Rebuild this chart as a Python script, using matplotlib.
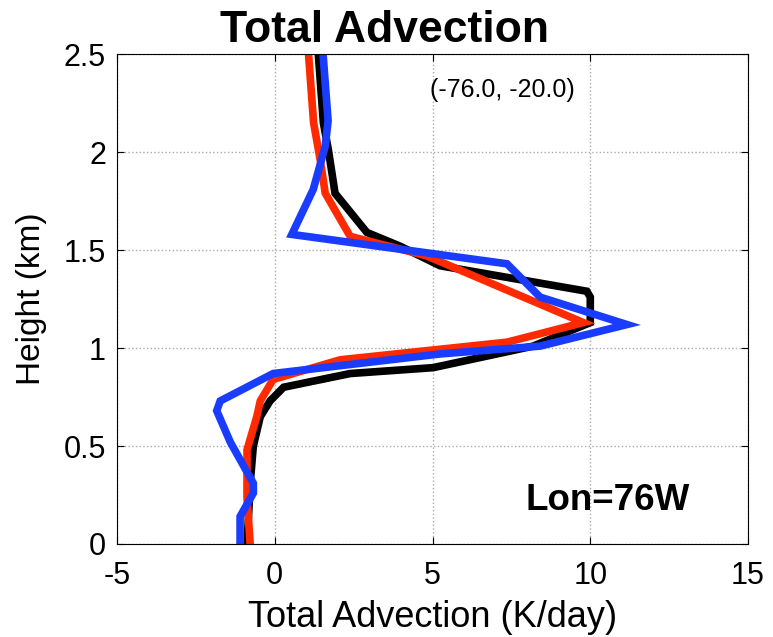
import matplotlib
matplotlib.use("Agg")
import matplotlib.pyplot as plt

plt.rcParams['font.family'] = ['Liberation Sans', 'DejaVu Sans']
plt.rcParams['axes.unicode_minus'] = False

# black profile
h_black = [0.0, 0.15, 0.31, 0.50, 0.65, 0.73, 0.80, 0.87, 0.90, 1.01, 1.13, 1.26,
           1.29, 1.42, 1.52, 1.59, 1.79, 2.01, 2.15, 2.5]
x_black = [-0.88, -0.83, -0.78, -0.68, -0.46, -0.15, 0.28, 2.39, 5.02, 8.19, 10.0, 10.0,
           9.89, 5.24, 3.97, 2.92, 1.91, 1.70, 1.54, 1.38]

# red profile
h_red = [0.0, 0.24, 0.48, 0.65, 0.73, 0.84, 0.94, 1.03, 1.13, 1.47, 1.57, 1.79, 1.96, 2.15, 2.5]
x_red = [-0.78, -0.88, -0.88, -0.57, -0.46, -0.05, 2.07, 7.36, 9.78, 4.82, 2.39, 1.60, 1.44, 1.23, 1.07]

# blue profile
h_blue = [0.0, 0.14, 0.26, 0.31, 0.52, 0.68, 0.73, 0.87, 0.97, 1.01, 1.12, 1.26, 1.43,
          1.58, 1.81, 2.03, 2.16, 2.5]
x_blue = [-1.10, -1.10, -0.68, -0.68, -1.41, -1.84, -1.73, -0.05, 5.24, 8.41, 11.16, 8.41, 7.36,
          0.54, 1.22, 1.60, 1.69, 1.53]

fig = plt.figure(figsize=(7.73, 6.37), dpi=100)
ax = fig.add_axes([0.1514, 0.146, 0.8163, 0.769])

ax.plot(x_black, h_black, color='black', lw=5.5, solid_joinstyle='miter')
ax.plot(x_red, h_red, color='#ff2a00', lw=5.5, solid_joinstyle='miter')
ax.plot(x_blue, h_blue, color='#1a3cff', lw=5.5, solid_joinstyle='miter')

ax.set_xlim(-5, 15)
ax.set_ylim(0, 2.5)
ax.set_xticks([-5, 0, 5, 10, 15])
ax.set_yticks([0, 0.5, 1, 1.5, 2, 2.5])
ax.set_yticklabels(['0', '0.5', '1', '1.5', '2', '2.5'])
ax.tick_params(direction='in', labelsize=22, length=5, top=True, right=True)
ax.tick_params(axis='x', pad=12)
ax.tick_params(axis='y', pad=8)
ax.grid(True, linestyle=':', color='#aaaaaa', lw=1)

ax.set_xlabel('Total Advection (K/day)', fontsize=26, labelpad=7)
ax.set_ylabel('Height (km)', fontsize=24, labelpad=12)
fig.suptitle('Total Advection', fontsize=32, fontweight='bold', x=0.497, y=0.985)

ax.text(0.61, 0.927, '(-76.0, -20.0)', transform=ax.transAxes, fontsize=18,
        ha='center', va='center')
ax.text(0.778, 0.088, 'Lon=76W', transform=ax.transAxes, fontsize=26.5,
        fontweight='bold', ha='center', va='center')

fig.savefig('out.png', dpi=100)
